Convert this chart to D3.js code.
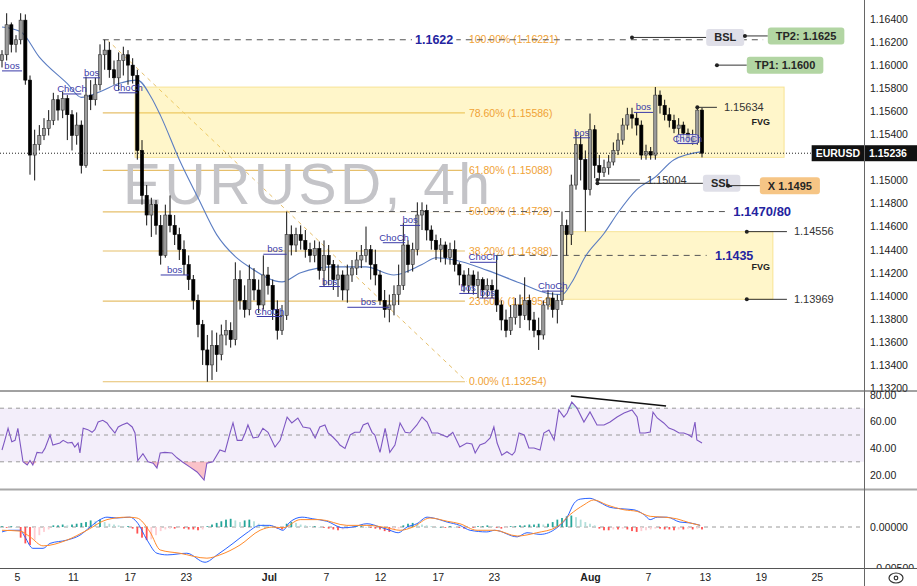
<!DOCTYPE html>
<html><head><meta charset="utf-8">
<script src="https://cdn.jsdelivr.net/npm/d3@7/dist/d3.min.js"></script>
<style>
html,body{margin:0;padding:0;background:#fff;overflow:hidden}
svg{display:block}
text{font-family:"Liberation Sans",Arial,sans-serif}
</style></head><body>
<svg id="chart" width="917" height="586"></svg>
<script>
// ---------- DATA ----------
const opens=[1.1604,1.1609,1.1635,1.1618,1.1622,1.1639,1.1587,1.1522,1.1531,1.1539,
1.1545,1.1552,1.1570,1.1561,1.1571,1.1557,1.1539,1.1548,1.1513,1.1574,
1.1570,1.1583,1.1609,1.1613,1.1596,1.1589,1.1604,1.1609,1.1600,1.1591,
1.1526,1.1487,1.1470,1.1479,1.1461,1.1435,1.1470,1.1461,1.1453,1.1440,
1.1427,1.1414,1.1396,1.1375,1.1353,1.1340,1.1357,1.1349,1.1366,1.1370,
1.1362,1.1414,1.1396,1.1388,1.1414,1.1405,1.1392,1.1418,1.1409,1.1388,
1.1370,1.1383,1.1453,1.1444,1.1453,1.1448,1.1440,1.1435,1.1441,1.1422,
1.1435,1.1427,1.1414,1.1418,1.1405,1.1418,1.1424,1.1431,1.1435,1.1440,
1.1427,1.1418,1.1396,1.1388,1.1392,1.1401,1.1409,1.1444,1.1427,1.1440,
1.1470,1.1474,1.1457,1.1448,1.1440,1.1444,1.1433,1.1440,1.1427,1.1418,
1.1409,1.1418,1.1409,1.1414,1.1405,1.1409,1.1405,1.1392,1.1379,1.1370,
1.1381,1.1392,1.1383,1.1396,1.1379,1.1370,1.1366,1.1392,1.1398,1.1388,
1.1396,1.1461,1.1453,1.1496,1.1531,1.1518,1.1492,1.1544,1.1513,1.1507,
1.1511,1.1516,1.1526,1.1535,1.1548,1.1557,1.1554,1.1548,1.1522,1.1525,
1.1522,1.1574,1.1565,1.1557,1.1552,1.1545,1.1548,1.1541,1.1537,1.1533,
1.1561];
const highs=[1.1613,1.1645,1.1637,1.1626,1.1645,1.1644,1.1591,1.1544,1.1548,1.1554,
1.1561,1.1576,1.1574,1.1577,1.1574,1.1561,1.1559,1.1552,1.1590,1.1587,
1.1589,1.1618,1.1622,1.1620,1.1604,1.1611,1.1616,1.1613,1.1606,1.1596,
1.1535,1.1496,1.1485,1.1483,1.1470,1.1479,1.1487,1.1470,1.1459,1.1448,
1.1435,1.1418,1.1401,1.1379,1.1366,1.1370,1.1368,1.1375,1.1379,1.1377,
1.1429,1.1422,1.1409,1.1427,1.1424,1.1414,1.1435,1.1425,1.1414,1.1396,
1.1392,1.1473,1.1461,1.1459,1.1461,1.1457,1.1446,1.1448,1.1447,1.1448,
1.1444,1.1431,1.1427,1.1422,1.1427,1.1431,1.1438,1.1444,1.1460,1.1444,
1.1440,1.1422,1.1405,1.1401,1.1409,1.1427,1.1463,1.1448,1.1446,1.1481,
1.1481,1.1479,1.1461,1.1453,1.1450,1.1447,1.1446,1.1448,1.1429,1.1422,
1.1424,1.1422,1.1421,1.1416,1.1415,1.1414,1.1435,1.1396,1.1388,1.1392,
1.1398,1.1401,1.1416,1.1401,1.1386,1.1381,1.1396,1.1405,1.1403,1.1401,
1.1473,1.1466,1.1505,1.1542,1.1539,1.1526,1.1558,1.1548,1.1522,1.1518,
1.1522,1.1533,1.1541,1.1554,1.1563,1.1563,1.1559,1.1552,1.1531,1.1529,
1.1581,1.1578,1.1570,1.1563,1.1557,1.1554,1.1551,1.1545,1.1544,1.15634,
1.1563];
const lows=[1.1598,1.1604,1.1611,1.1611,1.1618,1.1583,1.1505,1.1500,1.1526,1.1535,
1.1539,1.1548,1.1552,1.1554,1.1535,1.1526,1.1531,1.1506,1.1511,1.1561,
1.1565,1.1578,1.1596,1.1589,1.1583,1.1578,1.1591,1.1583,1.1584,1.1518,
1.1479,1.1461,1.1451,1.1453,1.1427,1.1433,1.1455,1.1444,1.1431,1.1418,
1.1405,1.1388,1.1364,1.1340,1.13254,1.1327,1.1334,1.1344,1.1357,1.1355,
1.1357,1.1388,1.1381,1.1383,1.1396,1.1385,1.1388,1.1401,1.1379,1.1362,
1.1366,1.1379,1.1435,1.1438,1.1440,1.1433,1.1429,1.1429,1.1414,1.1408,
1.1409,1.1405,1.1399,1.1396,1.1394,1.1412,1.1418,1.1424,1.1429,1.1414,
1.1409,1.1392,1.1381,1.1377,1.1383,1.1392,1.1405,1.1420,1.1421,1.1435,
1.1457,1.1448,1.1440,1.1431,1.1429,1.1427,1.1427,1.1421,1.1409,1.1403,
1.1402,1.1401,1.1398,1.1398,1.1399,1.1398,1.1386,1.1370,1.1364,1.1366,
1.1375,1.1372,1.1379,1.1370,1.1364,1.1353,1.1362,1.1388,1.1381,1.1376,
1.1392,1.1435,1.1444,1.1492,1.1500,1.14556,1.1487,1.1502,1.15004,1.1503,
1.1505,1.1513,1.1522,1.1531,1.1544,1.1545,1.1539,1.1518,1.1518,1.1518,
1.1518,1.1558,1.1552,1.1546,1.1541,1.1539,1.1535,1.1532,1.1531,1.1531,
1.1520];
const closes=[1.1609,1.1635,1.1618,1.1622,1.1639,1.1587,1.1522,1.1531,1.1539,1.1545,
1.1552,1.1570,1.1561,1.1571,1.1557,1.1539,1.1548,1.1513,1.1574,1.1570,
1.1583,1.1609,1.1613,1.1596,1.1589,1.1604,1.1609,1.1600,1.1591,1.1526,
1.1487,1.1470,1.1479,1.1461,1.1435,1.1470,1.1461,1.1453,1.1440,1.1427,
1.1414,1.1396,1.1375,1.1353,1.1340,1.1357,1.1349,1.1366,1.1370,1.1362,
1.1414,1.1396,1.1388,1.1414,1.1405,1.1392,1.1418,1.1409,1.1388,1.1370,
1.1383,1.1453,1.1444,1.1453,1.1448,1.1440,1.1435,1.1441,1.1422,1.1435,
1.1427,1.1414,1.1418,1.1405,1.1418,1.1424,1.1431,1.1435,1.1440,1.1427,
1.1418,1.1396,1.1388,1.1392,1.1401,1.1409,1.1444,1.1427,1.1440,1.1470,
1.1474,1.1457,1.1448,1.1440,1.1444,1.1433,1.1440,1.1427,1.1418,1.1409,
1.1418,1.1409,1.1414,1.1405,1.1409,1.1405,1.1392,1.1379,1.1370,1.1381,
1.1392,1.1383,1.1396,1.1379,1.1370,1.1366,1.1392,1.1398,1.1388,1.1396,
1.1461,1.1453,1.1496,1.1531,1.1518,1.1492,1.1544,1.1513,1.1507,1.1511,
1.1516,1.1526,1.1535,1.1548,1.1557,1.1554,1.1548,1.1522,1.1525,1.1522,
1.1574,1.1565,1.1557,1.1552,1.1545,1.1548,1.1541,1.1537,1.1533,1.1561,
1.15236];

const maBars=[0,4,8,14,17,21,25,29,32,34,38,42,46,50,53,60,64,71,78,84,90,93,97,104,111,117,120,122,125,129,132,136,140,144,150];
const maVals=[1.1633,1.1629,1.1607,1.1584,1.1572,1.1577,1.1584,1.1587,1.1572,1.1556,1.1518,1.1485,1.1453,1.1434,1.1425,1.1412,1.1420,1.1425,1.1425,1.1418,1.1427,1.1433,1.1431,1.1422,1.1411,1.1402,1.1401,1.1411,1.1434,1.1454,1.1472,1.1492,1.1503,1.1518,1.1525];

const rsiAt=[0,0.6,1.3,2.1,2.8,3.4,4.5,5.4,6.0,6.6,7.5,8.6,9.2,10.3,10.9,12.4,13.1,14.1,15.0,15.6,
16.3,16.7,17.4,18.4,19.3,19.9,20.6,21.6,22.5,23.1,24.2,24.9,25.7,26.8,27.9,28.5,29.1,30.2,31.3,32.4,
33.2,33.9,34.9,36.4,37.5,38.6,40.3,41.8,43.3,43.9,45.2,46.7,47.8,48.9,49.5,50.4,51.4,52.1,52.7,53.8,
54.9,55.9,57.0,58.5,59.6,61.1,62.1,63.4,64.5,66.0,67.1,68.1,69.2,69.9,70.9,72.0,72.4,73.5,74.6,75.6,
76.7,77.4,78.4,79.3,79.9,81.0,82.1,83.1,84.2,85.3,86.4,87.4,88.9,90.0,91.1,92.1,93.4,95.4,96.6,98.1,
99.6,100.7,101.4,102.4,103.5,104.6,105.4,106.1,107.1,108.2,109.3,109.9,110.8,111.9,112.9,114.0,115.3,116.1,117.2,118.3,
119.3,120.4,121.1,122.1,123.2,124.7,126.0,127.5,129.0,130.3,131.8,133.3,135.0,136.1,136.7,137.8,138.9,139.5,140.4,141.8,
142.9,144.0,145.1,146.1,147.2,147.8,148.5,148.9,150];
const rsiVals=[38.8,46,55,45,46,55,30,27.6,31,27.6,37,36.6,40,50,42.5,44,46,44,44.5,41,
44,36.6,55,54,52,54,59.7,61,59,56,51.5,56,57.5,59,56,51.5,31,36,30,29,
25.4,36.6,37,36.6,33,30,26,22.4,16.4,29,30,38.8,37.5,52,59,46,46,51.5,57.5,47.8,
48.5,55,52,41,46,63.4,59,62.7,56,55,47.8,56,57.5,51.5,48.5,44.5,42.5,40,50,52,
52,57.5,59,52,50,37,55,37,42.5,59,52,51.5,57.5,63.4,59.7,51.5,51.5,48.5,52,41,
44,43.3,36.6,42.5,44,47.8,56,44,35,37.5,35,37.5,51.5,50,40.3,40.3,38.8,51.5,53.7,46.3,
68.7,63.4,66.4,74.6,70.2,59.7,67.2,57.5,57.5,59.7,63.4,66.4,68.7,63.4,51.5,51.5,52.2,67,62.7,59,
55.2,53.7,51.5,51.5,50,48.5,59.7,46.3,44];
const divAt=[121.9,142.3], divVals=[79.1,71.6];

const macdAt=[0,1.7,3.9,4.9,6.6,8.8,10.3,13.9,16.7,18.9,21.0,22.5,24.6,27.4,28.9,31.1,33.2,35.4,39.6,43.5,
46.1,49.5,52.5,55.3,57.4,58.9,60.2,61.7,64.3,66.6,69.6,73.1,75.2,78.2,81.0,83.1,84.9,86.8,88.9,91.1,
92.4,95.4,98.1,100.3,103.9,105.6,110.4,112.5,115.3,118.9,121.1,122.6,123.9,126.0,128.1,130.3,133.3,135.4,137.6,138.9,
140.4,142.5,145.3,147.4,149.6];
const macdVals=[-0.0006,-0.0004,-0.0004,-0.0012,-0.0026,-0.0026,-0.0020,-0.0016,-0.0010,0.0000,
0.0009,0.0012,0.0011,0.0012,0.0006,-0.0016,-0.0032,-0.0034,-0.0032,-0.0043,
-0.0034,-0.0020,-0.0007,0.0002,0.0002,-0.0001,-0.0004,0.0006,0.0012,0.0010,
0.0007,-0.0001,0.0000,0.0004,0.0000,-0.0004,-0.0007,0.0000,0.0004,0.0012,
0.0011,0.0006,0.0002,-0.0004,-0.0006,-0.0004,-0.0012,-0.0007,-0.0009,-0.0001,
0.0012,0.0029,0.0034,0.0035,0.0030,0.0024,0.0022,0.0021,0.0015,0.0009,
0.0012,0.0012,0.0006,0.0005,0.0002];
const signalAt=[0,3.9,6.0,8.8,13.9,18.2,22.5,26.8,28.9,31.7,33.9,38.1,43.9,46.7,51.0,55.3,58.1,60.2,63.9,68.1,
73.9,78.2,82.5,85.3,88.1,91.7,95.4,98.1,101.8,105.6,110.4,114.6,118.9,121.7,124.7,126.8,129.6,133.3,136.1,138.9,
141.8,144.6,147.4,149.6];
const signalVals=[-0.0004,-0.0005,-0.0012,-0.0023,-0.0016,-0.0004,0.0009,0.0012,0.0011,-0.0006,
-0.0028,-0.0032,-0.0038,-0.0034,-0.0022,-0.0004,0.0000,-0.0001,0.0009,0.0009,
0.0002,0.0002,-0.0001,-0.0004,0.0000,0.0011,0.0007,0.0004,-0.0004,-0.0004,
-0.0011,-0.0007,0.0000,0.0015,0.0027,0.0033,0.0027,0.0021,0.0019,0.0013,
0.0012,0.0010,0.0005,0.0002];
const histVals=[0.0001,-0.0001,0.0001,0.0000,-0.0013,-0.0020,-0.0022,-0.0016,-0.0010,-0.0006,
-0.0003,0.0002,0.0002,0.0003,0.0002,0.0003,0.0004,0.0005,0.0006,0.0008,
0.0007,0.0009,0.0006,0.0004,0.0003,0.0002,0.0001,0.0001,-0.0002,-0.0008,
-0.0013,-0.0016,-0.0015,-0.0010,-0.0005,-0.0003,-0.0002,-0.0002,-0.0001,-0.0002,
-0.0003,-0.0003,-0.0004,-0.0003,0.0001,0.0003,0.0005,0.0007,0.0009,0.0010,
0.0008,0.0006,0.0008,0.0009,0.0007,0.0004,0.0003,0.0002,0.0001,-0.0002,
-0.0003,0.0004,0.0006,0.0005,0.0003,0.0002,0.0001,0.0001,0.0000,-0.0001,
-0.0002,-0.0003,-0.0004,-0.0003,-0.0002,-0.0001,0.0001,0.0001,0.0000,-0.0001,
-0.0002,-0.0003,-0.0005,-0.0006,-0.0004,-0.0002,0.0002,0.0004,0.0005,0.0004,
0.0003,0.0002,0.0001,0.0000,0.0000,-0.0001,0.0001,0.0000,-0.0001,-0.0002,
-0.0001,-0.0001,0.0001,0.0001,0.0002,0.0001,-0.0001,-0.0002,-0.0001,0.0001,
0.0001,0.0002,0.0002,0.0003,0.0003,0.0004,0.0003,0.0004,0.0006,0.0009,
0.0011,0.0013,0.0014,0.0012,0.0009,0.0006,0.0004,0.0002,-0.0002,-0.0004,
-0.0004,-0.0003,-0.0003,-0.0002,-0.0003,-0.0005,-0.0006,-0.0005,-0.0004,-0.0003,
-0.0002,-0.0002,-0.0003,-0.0003,-0.0004,-0.0003,-0.0003,-0.0002,-0.0003,-0.0002,
-0.0003];

const xTickBars=[3.2,15.2,27.4,39.4,57.2,69.4,81,93.4,105.4,126,138.4,150.6,162.6,174.6];
const xTickLabels=["5","11","17","23","Jul","7","12","17","23","Aug","7","13","19","25"];
const priceTicks=[1.164,1.162,1.160,1.158,1.156,1.154,1.152,1.150,1.148,1.146,1.144,1.142,1.140,1.138,1.136,1.134,1.132];
const rsiTicks=[80,60,40,20];
const rsiLevels=[70,50,30];
const macdTicks=[0,-0.005];

const fibRatios=[0,0.236,0.382,0.5,0.618,0.786,1];
const fibPrices=[1.13254,1.13954,1.14388,1.14728,1.15088,1.15586,1.16221];
const fibLabels=["0.00% (1.13254)","23.60% (1.13954)","38.20% (1.14388)","50.00% (1.14728)","61.80% (1.15088)","78.60% (1.15586)","100.00% (1.16221)"];
const fibFrom=21.6, fibTo=99.2, fibDiagFrom=22.5;

const fvgFrom=[28.5,120], fvgTo=[167.6,165.2], fvgTop=[1.1581,1.14556], fvgBottom=[1.1520,1.13969];
const fvgLabelBar=[164.6,164.6], fvgLabelPrice=[1.1551,1.1425];

const dashFrom=[21.6,61.7,106], dashTo=[163.1,154.9,151], dashPrice=[1.1622,1.1473,1.1435];
const blueText=["1.1622","1.1470/80","1.1435"], blueBar=[88.5,156.7,152.8], bluePrice=[1.1622,1.1473,1.1435];

const structText=["bos","ChoCh","bos","ChoCh","bos","bos","ChoCh","bos","bos","ChoCh","bos","bos","ChoCh","bos","ChoCh","bos","bos","ChoCh"];
const structFrom=[0,13,17.4,25,34,56,54.6,68,74,81.6,85.3,98,100.3,102.4,115.7,122.4,135.4,144.8];
const structTo=[4.3,17,21,29,40,61,60,72.4,83,86.4,89.6,101.8,106,105.6,120.3,126,139.5,149];
const structPrice=[1.1595,1.1575,1.1589,1.1576,1.1418,1.1436,1.1382,1.1408,1.1390,1.1446,1.1461,1.1402,1.1429,1.1398,1.1404,1.1537,1.1559,1.1532];

const noteText=["1.15634","1.15004","1.14556","1.13969"];
const noteDot=[149,127.6,159.6,159.6], noteEnd=[153.2,136.7,168.2,168.2], notePrice=[1.15634,1.15004,1.14556,1.13969];

const tagText=["BSL","TP2: 1.1625","TP1: 1.1600","SSL","X 1.1495"];
const tagDot=[135,159.2,153.2,127.6,155.6], tagBox=[150.9,164.1,159.6,150.2,162.4];
const tagPrice=[1.16240,1.16253,1.1600,1.14975,1.14955];
const tagKind=["grey","green","green","grey","orange"];

const symbol="EURUSD", timeframe="4h";

// ---------- DRAWING ----------
const PR=864, W=917;
const svg=d3.select('#chart');
const x=d3.scaleLinear().domain([0,150]).range([2,702]);
const yP=d3.scaleLinear().domain([1.132,1.164]).range([388,19]);
const yR=d3.scaleLinear().domain([20,80]).range([475.2,394.8]);
const yM=d3.scaleLinear().domain([-0.005,0]).range([568,527]);
const FONT='"Liberation Sans",Arial,sans-serif';

const defs=svg.append('defs');
function clip(id,x0,y0,w,h){defs.append('clipPath').attr('id',id).append('rect').attr('x',x0).attr('y',y0).attr('width',w).attr('height',h);}
clip('cm',0,0,PR,391); clip('cr',0,391,PR,98); clip('cd',0,490,PR,78); clip('cdx',PR,490,W-PR,78);

const gm=svg.append('g').attr('clip-path','url(#cm)');
const fibCol='#e6bf6b', fibTxt='#f0a235';

// fib lines (0..78.6)
fibRatios.forEach((r,k)=>{
  const yy=yP(fibPrices[k]);
  if(r<1) gm.append('line').attr('x1',x(fibFrom)).attr('x2',x(fibTo)).attr('y1',yy).attr('y2',yy).attr('stroke',fibCol).attr('stroke-width',1.2);
});
// diagonal
gm.append('line').attr('x1',x(fibDiagFrom)).attr('y1',yP(fibPrices[6])).attr('x2',x(fibTo+0.4)).attr('y2',yP(fibPrices[0]))
  .attr('stroke',fibCol).attr('stroke-width',1).attr('stroke-dasharray','4,4');
// white under-strokes for dashed levels
dashPrice.forEach((p,k)=>{
  gm.append('line').attr('x1',x(dashFrom[k])).attr('x2',x(dashTo[k])).attr('y1',yP(p)).attr('y2',yP(p)).attr('stroke','#fff').attr('stroke-width',2.2);
});
// FVG boxes
fvgFrom.forEach((b,k)=>{
  gm.append('rect').attr('x',x(b)).attr('width',x(fvgTo[k])-x(b)).attr('y',yP(fvgTop[k])).attr('height',yP(fvgBottom[k])-yP(fvgTop[k]))
    .attr('fill','rgba(255,226,80,0.30)').attr('stroke','rgba(240,210,90,0.55)').attr('stroke-width',1);
  gm.append('text').text('FVG').attr('x',x(fvgLabelBar[k])).attr('y',yP(fvgLabelPrice[k])).attr('dy','0.35em').attr('text-anchor','end')
    .attr('font-size',9).attr('font-weight','bold').attr('fill','#222');
});
// fib labels
fibRatios.forEach((r,k)=>{
  gm.append('text').text(fibLabels[k]).attr('x',x(fibTo)+4).attr('y',yP(fibPrices[k])).attr('dy','0.35em')
    .attr('font-size',10.5).attr('fill',fibTxt);
});
// watermark
gm.append('text').text(symbol+', '+timeframe).attr('x',123).attr('y',204).attr('font-size',57)
  .attr('textLength',367).attr('lengthAdjust','spacing').attr('fill','#c4c4c8');
// dashed levels
dashPrice.forEach((p,k)=>{
  gm.append('line').attr('x1',x(dashFrom[k])).attr('x2',x(dashTo[k])).attr('y1',yP(p)).attr('y2',yP(p))
    .attr('stroke','#555').attr('stroke-width',1).attr('stroke-dasharray','6,5');
});
// blue bold level texts
blueText.forEach((t,k)=>{
  const tx=gm.append('text').text(t).attr('x',x(blueBar[k])).attr('y',yP(bluePrice[k])).attr('dy','0.36em')
    .attr('font-size',k===1?13:12.5).attr('font-weight','bold').attr('fill','#2424a0');
  if(k===0){const bb=tx.node().getBBox();gm.insert('rect',()=>tx.node()).attr('x',bb.x-3).attr('y',bb.y+1).attr('width',bb.width+6).attr('height',bb.height-2).attr('fill','#fff');}
});
// moving average
gm.append('path').datum(d3.range(maBars.length))
  .attr('d',d3.line().x(i=>x(maBars[i])).y(i=>yP(maVals[i])).curve(d3.curveMonotoneX))
  .attr('fill','none').attr('stroke','#5b7dc2').attr('stroke-width',1.1);
// candles
const idx=d3.range(closes.length), bw=3.2;
gm.append('g').selectAll('line').data(idx).join('line')
  .attr('x1',i=>x(i)).attr('x2',i=>x(i)).attr('y1',i=>yP(highs[i])).attr('y2',i=>yP(lows[i]))
  .attr('stroke','#111').attr('stroke-width',1);
gm.append('g').selectAll('rect').data(idx).join('rect')
  .attr('x',i=>x(i)-bw/2).attr('width',bw)
  .attr('y',i=>yP(Math.max(opens[i],closes[i])))
  .attr('height',i=>Math.max(1,Math.abs(yP(opens[i])-yP(closes[i]))))
  .attr('fill',i=>closes[i]>=opens[i]?'#9b9b9b':'#000')
  .attr('stroke',i=>closes[i]>=opens[i]?'#333':'#000').attr('stroke-width',0.6);
// structure labels
structText.forEach((t,k)=>{
  const yy=yP(structPrice[k]), x1=x(structFrom[k]), x2=x(structTo[k]);
  gm.append('line').attr('x1',x1).attr('x2',x2).attr('y1',yy).attr('y2',yy).attr('stroke','#3a3aa8').attr('stroke-width',1);
  if(k===structText.length-1){
    gm.append('rect').attr('x',x1-1).attr('y',yy-9).attr('width',x2-x1+2).attr('height',9).attr('rx',2)
      .attr('fill','rgba(230,230,250,0.7)').attr('stroke','#3a3aa8').attr('stroke-width',0.8);
  }
  gm.append('text').text(t).attr('x',(x1+x2)/2).attr('y',yy-2).attr('text-anchor','middle')
    .attr('font-size',9.5).attr('fill','#3a3aa8');
});
// notes with dot + line + value
noteText.forEach((t,k)=>{
  const yy=yP(notePrice[k]);
  gm.append('line').attr('x1',x(noteDot[k])).attr('x2',x(noteEnd[k])).attr('y1',yy).attr('y2',yy).attr('stroke','#333').attr('stroke-width',1);
  gm.append('circle').attr('cx',x(noteDot[k])).attr('cy',yy).attr('r',2).attr('fill','#222');
  gm.append('text').text(t).attr('x',x(noteEnd[k])+7).attr('y',yy).attr('dy','0.35em').attr('font-size',11).attr('fill','#333');
});
// tags
const tagFill={grey:'#dfdfe8',green:'#b2d5a3',orange:'#f6c585'};
tagText.forEach((t,k)=>{
  const yy=yP(tagPrice[k]), bx=x(tagBox[k]);
  gm.append('line').attr('x1',x(tagDot[k])).attr('x2',bx).attr('y1',yy).attr('y2',yy).attr('stroke','#333').attr('stroke-width',1);
  const r=gm.append('rect');
  const tx=gm.append('text').text(t).attr('x',bx+8).attr('y',yy).attr('dy','0.36em').attr('font-size',11).attr('font-weight','bold').attr('fill','#262626');
  const w=tx.node().getComputedTextLength()+16;
  r.attr('x',bx).attr('y',yy-8.5).attr('width',w).attr('height',17).attr('rx',3).attr('fill',tagFill[tagKind[k]]);
  gm.append('circle').attr('cx',x(tagDot[k])).attr('cy',yy).attr('r',2).attr('fill','#222');
});
// current price dotted line
const last=closes[closes.length-1], yLast=yP(last);
gm.append('line').attr('x1',0).attr('x2',PR).attr('y1',yLast).attr('y2',yLast).attr('stroke','#222').attr('stroke-width',1).attr('stroke-dasharray','1,2');

// ---------- RSI ----------
const gr=svg.append('g').attr('clip-path','url(#cr)');
gr.append('rect').attr('x',0).attr('width',PR).attr('y',yR(70)).attr('height',yR(30)-yR(70)).attr('fill','#f3eefa');
rsiLevels.forEach(v=>gr.append('line').attr('x1',0).attr('x2',PR).attr('y1',yR(v)).attr('y2',yR(v)).attr('stroke','#9a9a9a').attr('stroke-dasharray','4,4'));
const ri=d3.range(rsiAt.length);
gr.append('path').datum(ri).attr('d',d3.area().x(i=>x(rsiAt[i])).y0(yR(30)).y1(i=>yR(Math.min(30,rsiVals[i]))))
  .attr('fill','rgba(242,80,100,0.35)');
gr.append('path').datum(ri).attr('d',d3.area().x(i=>x(rsiAt[i])).y0(yR(70)).y1(i=>yR(Math.max(70,rsiVals[i]))))
  .attr('fill','rgba(8,153,129,0.18)');
gr.append('path').datum(ri).attr('d',d3.line().x(i=>x(rsiAt[i])).y(i=>yR(rsiVals[i])))
  .attr('fill','none').attr('stroke','#7e57c2').attr('stroke-width',1.1);
gr.append('line').attr('x1',x(divAt[0])).attr('y1',yR(divVals[0])).attr('x2',x(divAt[1])).attr('y2',yR(divVals[1])).attr('stroke','#111').attr('stroke-width',1.6);

// ---------- MACD ----------
const gd=svg.append('g').attr('clip-path','url(#cd)');
gd.append('line').attr('x1',0).attr('x2',PR).attr('y1',yM(0)).attr('y2',yM(0)).attr('stroke','#9a9a9a').attr('stroke-dasharray','4,4');
gd.append('g').selectAll('rect').data(d3.range(histVals.length)).join('rect')
  .attr('x',i=>x(i)-0.9).attr('width',1.8)
  .attr('y',i=>Math.min(yM(0),yM(histVals[i]))).attr('height',i=>Math.max(0.6,Math.abs(yM(histVals[i])-yM(0))))
  .attr('fill',i=>{const v=histVals[i],p=i>0?histVals[i-1]:0;
    if(v>=0) return v>=p?'#26a69a':'#b2dfdb'; return v<=p?'#ff5252':'#ffcdd2';});
gd.append('path').datum(d3.range(macdAt.length)).attr('d',d3.line().x(i=>x(macdAt[i])).y(i=>yM(macdVals[i])).curve(d3.curveMonotoneX))
  .attr('fill','none').attr('stroke','#2962ff').attr('stroke-width',1);
gd.append('path').datum(d3.range(signalAt.length)).attr('d',d3.line().x(i=>x(signalAt[i])).y(i=>yM(signalVals[i])).curve(d3.curveMonotoneX))
  .attr('fill','none').attr('stroke','#ff8a2a').attr('stroke-width',1);

// ---------- AXES ----------
function styleAxis(g){g.select('.domain').remove();g.selectAll('text').attr('font-family',FONT).attr('font-size',10.5).attr('fill','#222');}
svg.append('g').attr('transform',`translate(${PR},0)`)
  .call(d3.axisRight(yP).tickValues(priceTicks).tickSize(0).tickPadding(6).tickFormat(d3.format('.5f'))).call(styleAxis);
svg.append('g').attr('transform',`translate(${PR},0)`)
  .call(d3.axisRight(yR).tickValues(rsiTicks).tickSize(0).tickPadding(6).tickFormat(d3.format('.2f'))).call(styleAxis);
svg.append('g').attr('clip-path','url(#cdx)').append('g').attr('transform',`translate(${PR},0)`)
  .call(d3.axisRight(yM).tickValues(macdTicks).tickSize(0).tickPadding(6).tickFormat(d3.format('.5f'))).call(styleAxis);
const xa=svg.append('g').attr('transform','translate(0,568)')
  .call(d3.axisBottom(x).tickValues(xTickBars).tickSize(0).tickPadding(6).tickFormat((d,i)=>xTickLabels[i])).call(styleAxis);
xa.selectAll('text').attr('font-weight',(d,i)=>isNaN(+xTickLabels[i])?'bold':'normal');

// separators
svg.append('line').attr('x1',0).attr('x2',W).attr('y1',391).attr('y2',391).attr('stroke','#444').attr('stroke-width',1);
svg.append('line').attr('x1',0).attr('x2',W).attr('y1',489.5).attr('y2',489.5).attr('stroke','#a8a8a8').attr('stroke-width',2);
svg.append('line').attr('x1',0).attr('x2',W).attr('y1',568.5).attr('y2',568.5).attr('stroke','#555').attr('stroke-width',1);
svg.append('line').attr('x1',PR+0.5).attr('x2',PR+0.5).attr('y1',0).attr('y2',586).attr('stroke','#666').attr('stroke-width',1);

// price tags
svg.append('rect').attr('x',PR+1).attr('y',yLast-8).attr('width',W-PR-1).attr('height',16).attr('fill','#111');
svg.append('text').text(d3.format('.5f')(last)).attr('x',PR+5).attr('y',yLast).attr('dy','0.36em').attr('font-size',10.5).attr('font-weight','bold').attr('fill','#fff');
const st=svg.append('text').text(symbol).attr('x',PR-4).attr('y',yLast).attr('dy','0.36em').attr('text-anchor','end').attr('font-size',10.5).attr('font-weight','bold').attr('fill','#fff');
const sw=st.node().getComputedTextLength();
svg.insert('rect',()=>st.node()).attr('x',PR-sw-8).attr('y',yLast-8).attr('width',sw+8).attr('height',16).attr('fill','#111');

// settings icon
svg.append('ellipse').attr('cx',896).attr('cy',578).attr('rx',7).attr('ry',5).attr('fill','none').attr('stroke','#333').attr('stroke-width',1.2);
svg.append('circle').attr('cx',896).attr('cy',578).attr('r',1.8).attr('fill','none').attr('stroke','#333').attr('stroke-width',1.2);
</script>
</body></html>
